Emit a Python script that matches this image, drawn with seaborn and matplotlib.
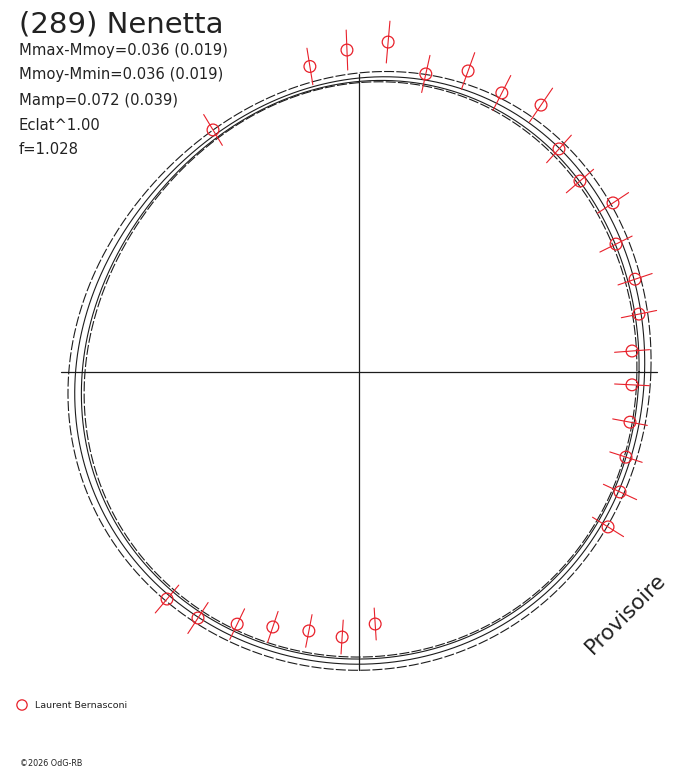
import numpy as np
import pandas as pd
import matplotlib
matplotlib.use("Agg")
import matplotlib.pyplot as plt
import seaborn as sns

W, H = 688, 768
CX, CY = 359.3, 371.5          # pole of the polar diagram (pixels from top-left)
RED = "#e8202a"
INK = "#1c1c1c"

# ==========================================
# Data
# ==========================================
# Fourier fit of the radius (px) as a function of phase angle
FIT_R0 = 288.8
FIT_COS = [4.0, -4.3, -3.2]
FIT_SIN = [-1.6, 7.6, -2.0]

# the four drawn curves = fit scaled / phase shifted
CURVE_SCALE = [1.0, 0.982, 1.021, 0.975]
CURVE_SHIFT = [0.0, 4.0, -2.0, 6.0]      # degrees
CURVE_STYLE = ["-", "-", (0, (9, 2)), (0, (9, 2))]

# observations: phase angle (deg), radius (px), half length of error bar (px)
obs_angle = [121.2, 99.2, 92.2, 85.0, 77.4, 70.1, 62.9, 55.7, 48.1, 40.8,
             33.6, 26.4, 18.5, 11.6, 4.3, -2.8, -10.6, -17.8, -24.8, -32.0,
             229.8, 236.8, 244.2, 251.3, 259.0, 266.3, 273.6]
obs_radius = [282.4, 309.0, 321.7, 330.7, 304.9, 319.6, 312.9, 322.5, 299.0, 291.5,
              304.6, 286.6, 290.8, 285.5, 273.5, 273.0, 275.4, 280.1, 287.2, 293.3,
              297.9, 294.6, 280.6, 269.7, 264.3, 266.1, 253.0]
obs_err = [18.0, 18.5, 20.0, 21.0, 19.0, 19.5, 19.6, 20.5, 18.5, 18.0,
           18.7, 18.0, 18.0, 18.0, 17.5, 17.4, 17.6, 17.0, 18.3, 18.3,
           18.2, 18.5, 17.0, 16.4, 16.6, 17.0, 16.0]

title = "(289) Nenetta"
info_lines = ["Mmax-Mmoy=0.036 (0.019)", "Mmoy-Mmin=0.036 (0.019)",
              "Mamp=0.072 (0.039)", "Eclat^1.00", "f=1.028"]
observer = "Laurent Bernasconi"
credit = "\u00a92026 OdG-RB"
stamp = "Provisoire"
AXIS_HALF = 298.0


def fit_radius(theta):
    r = np.full_like(theta, FIT_R0)
    for k, (a, b) in enumerate(zip(FIT_COS, FIT_SIN), start=1):
        r += a * np.cos(k * theta) + b * np.sin(k * theta)
    return r


# ==========================================
# Figure: one axes covering everything, 1 data unit = 1 pixel
# ==========================================
sns.set_style("white")
plt.rcParams["font.family"] = ["DejaVu Sans"]

fig = plt.figure(figsize=(W / 100, H / 100), dpi=100)
ax = fig.add_axes([0, 0, 1, 1])
ax.set_xlim(-CX, W - CX)
ax.set_ylim(-(H - CY), CY)
ax.axis("off")

# cross through the pole
ax.plot([-AXIS_HALF, AXIS_HALF], [0, 0], color=INK, lw=0.9)
ax.plot([0, 0], [-AXIS_HALF, AXIS_HALF], color=INK, lw=0.9)

# fitted curves
theta = np.linspace(0, 2 * np.pi, 721)
for scale, shift, ls in zip(CURVE_SCALE, CURVE_SHIFT, CURVE_STYLE):
    r = scale * fit_radius(theta - np.radians(shift))
    curve = pd.DataFrame({"x": r * np.cos(theta), "y": r * np.sin(theta)})
    sns.lineplot(data=curve, x="x", y="y", sort=False, estimator=None,
                 color=INK, linewidth=0.8, linestyle=ls, ax=ax)

# observations with radial error bars
ang = np.radians(obs_angle)
rad = np.array(obs_radius)
err = np.array(obs_err)
obs = pd.DataFrame({"x": rad * np.cos(ang), "y": rad * np.sin(ang)})

ex, ey = [], []
for a, r, e in zip(ang, rad, err):
    ex += [(r - e) * np.cos(a), (r + e) * np.cos(a), np.nan]
    ey += [(r - e) * np.sin(a), (r + e) * np.sin(a), np.nan]
ax.plot(ex, ey, color=RED, lw=0.8)

sns.scatterplot(data=obs, x="x", y="y", marker="o", s=72, facecolor="none",
                edgecolor=RED, linewidth=0.9, ax=ax, zorder=5)


def px(x, y):
    return x / W, 1 - y / H


# texts
fig.text(*px(19, 24), title, fontsize=21, color="#222222", va="center", ha="left")
for i, line in enumerate(info_lines):
    fig.text(*px(19, 50 + 25 * i), line, fontsize=10.6, color="#222222",
             va="center", ha="left")

fig.text(*px(626, 614), stamp, fontsize=15.5, color="#222222", rotation=45,
         ha="center", va="center", rotation_mode="anchor")

ax.scatter([22 - CX], [CY - 705], s=55, facecolor="none", edgecolor=RED, linewidth=0.9)
fig.text(*px(35, 705.5), observer, fontsize=6.8, color="#222222", va="center", ha="left")
fig.text(*px(20, 763), credit, fontsize=5.8, color="#222222", va="center", ha="left")

fig.savefig("out.png", dpi=100)
plt.close(fig)
